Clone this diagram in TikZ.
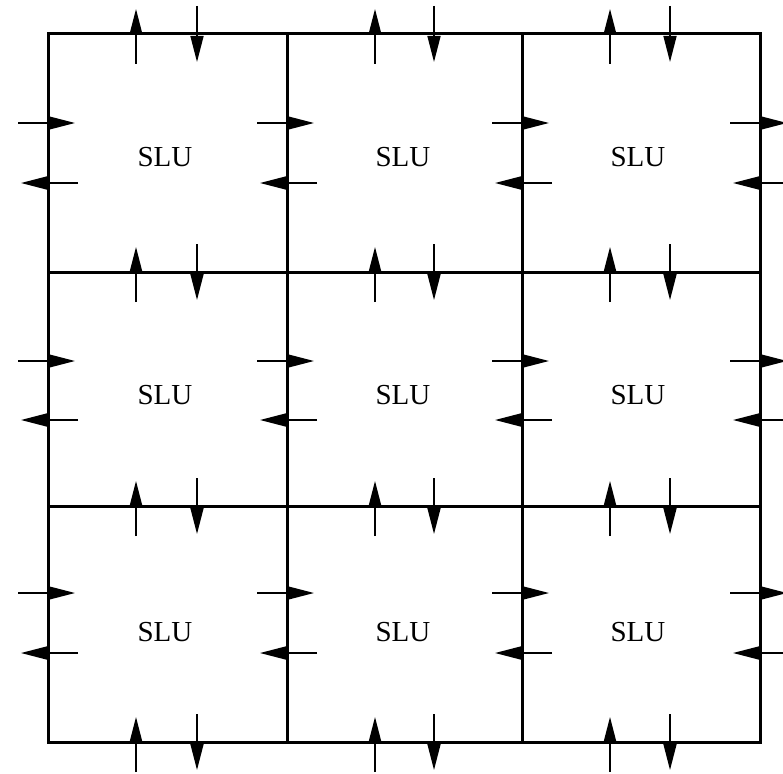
\documentclass[tikz,border=0pt]{standalone}
\usepackage{fontspec}
\setmainfont{Liberation Serif}
\usetikzlibrary{arrows.meta}
\begin{document}
\begin{tikzpicture}[x=1pt,y=-1pt,
  sig/.style={line width=1.5pt,-{Triangle[length=26pt,width=13pt]}},
  gridline/.style={line width=3pt},
  lbl/.style={font=\fontsize{29}{32}\selectfont, inner sep=0pt}]
\useasboundingbox (0,0) rectangle (783,773);
\clip (0,0) rectangle (783,773);
% grid
\draw[gridline] (48,34) rectangle (760,742);
\foreach \X in {287,522} \draw[gridline] (\X,34) -- (\X,742);
\foreach \Y in {272,506} \draw[gridline] (48,\Y) -- (760,\Y);
% horizontal signals across vertical lines
\foreach \X in {48,287,522,760}{
  \foreach \ya/\yb in {123/183,361/420,593/653}{
    \draw[sig] (\X-30,\ya) -- (\X+27,\ya);
    \draw[sig] (\X+30,\yb) -- (\X-27,\yb);
  }
}
% vertical signals across horizontal lines
\foreach \Y in {34,272,506,742}{
  \foreach \xa/\xb in {136/197,375/434,610/670}{
    \draw[sig] (\xa,\Y+30) -- (\xa,\Y-25);
    \draw[sig] (\xb,\Y-28) -- (\xb,\Y+28);
  }
}
% labels
\node[lbl] (s11) at (165,157) {SLU};
\node[lbl] (s12) at (403,157) {SLU};
\node[lbl] (s13) at (638,157) {SLU};
\node[lbl] (s21) at (165,395) {SLU};
\node[lbl] (s22) at (403,395) {SLU};
\node[lbl] (s23) at (638,395) {SLU};
\node[lbl] (s31) at (165,632) {SLU};
\node[lbl] (s32) at (403,632) {SLU};
\node[lbl] (s33) at (638,632) {SLU};
\end{tikzpicture}
\end{document}
